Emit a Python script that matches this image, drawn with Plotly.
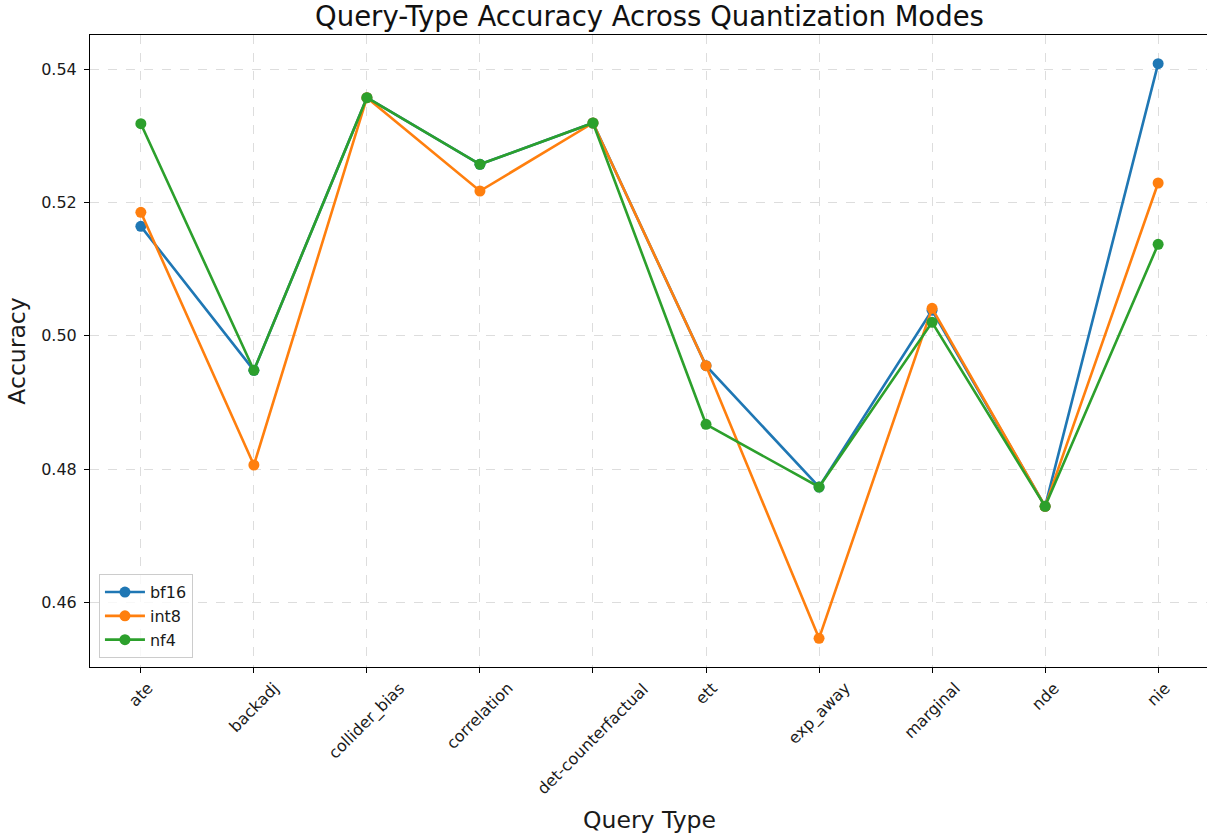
import plotly.graph_objects as go

categories = ["ate", "backadj", "collider_bias", "correlation", "det-counterfactual",
              "ett", "exp_away", "marginal", "nde", "nie"]
bf16 = [0.5164, 0.4948, 0.5357, 0.5257, 0.5319, 0.4955, 0.4773, 0.5038, 0.4744, 0.5408]
int8 = [0.5185, 0.4806, 0.5357, 0.5217, 0.5319, 0.4955, 0.4546, 0.5041, 0.4744, 0.5229]
nf4 = [0.5318, 0.4948, 0.5357, 0.5257, 0.5319, 0.4867, 0.4773, 0.5020, 0.4744, 0.5137]
y_ticks = [0.46, 0.48, 0.50, 0.52, 0.54]

series = [("bf16", bf16, "#1f77b4"), ("int8", int8, "#ff7f0e"), ("nf4", nf4, "#2ca02c")]

FONT = "DejaVu Sans"
TXT = "#1a1a1a"
fig = go.Figure()
xs = list(range(len(categories)))
for name, vals, color in series:
    fig.add_trace(go.Scatter(
        x=xs, y=vals, name=name, mode="lines+markers",
        line=dict(color=color, width=2.6),
        marker=dict(color=color, size=11),
    ))

for i, c in enumerate(categories):
    fig.add_annotation(
        x=i, xref="x", y=0, yref="paper", yshift=-9,
        text=c, showarrow=False, textangle=-45,
        xanchor="center", yanchor="top",
        font=dict(family=FONT, size=16, color=TXT),
    )

fig.update_layout(
    width=1209, height=837,
    margin=dict(l=90, r=0, t=35, b=170),
    paper_bgcolor="white", plot_bgcolor="white",
    font=dict(family=FONT, size=16, color=TXT),
    title=dict(text="Query-Type Accuracy Across Quantization Modes",
               x=0.5, xref="paper", xanchor="center",
               y=1 - 16 / 837, yref="container", yanchor="middle",
               font=dict(family=FONT, size=27.5, color="#111")),
    legend=dict(x=0.008, y=0.014, xanchor="left", yanchor="bottom",
                bordercolor="#cccccc", borderwidth=1, bgcolor="rgba(255,255,255,0.8)",
                font=dict(family=FONT, size=16, color=TXT),
                itemwidth=40, tracegroupgap=2),
    showlegend=True,
)
fig.update_xaxes(
    range=[-0.45, 9.45], tickmode="array", tickvals=xs, showticklabels=False,
    ticks="outside", ticklen=5, tickcolor="black",
    showline=True, linecolor="black", linewidth=1, mirror=True,
    showgrid=True, gridcolor="#dddddd", griddash="dash", gridwidth=1,
    zeroline=False,
    title=dict(text="Query Type", standoff=139, font=dict(family=FONT, size=23.5, color=TXT)),
    automargin=False,
)
fig.update_yaxes(
    range=[0.4503, 0.5451], tickmode="array", tickvals=y_ticks,
    ticktext=[f"{v:.2f}" for v in y_ticks],
    tickfont=dict(family=FONT, size=16, color=TXT),
    ticks="outside", ticklen=5, tickcolor="black", ticklabelstandoff=4,
    showline=True, linecolor="black", linewidth=1, mirror=False,
    showgrid=True, gridcolor="#dddddd", griddash="dash", gridwidth=1,
    zeroline=False,
    title=dict(text="Accuracy", standoff=8, font=dict(family=FONT, size=23.5, color=TXT)),
    automargin=False,
)
fig.write_html(
    "out.html",
    config={"displayModeBar": False},
    post_script="document.body.style.margin='0';document.body.style.overflow='hidden';",
)
